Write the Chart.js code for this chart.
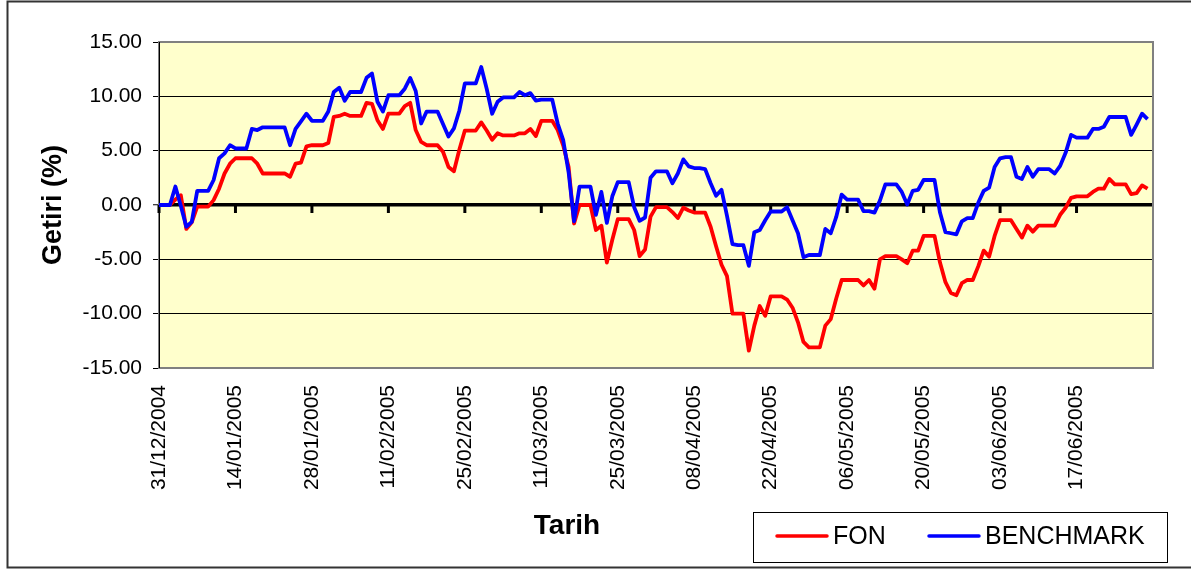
<!DOCTYPE html>
<html>
<head>
<meta charset="utf-8">
<script src="https://cdn.jsdelivr.net/npm/chart.js@4.4.1/dist/chart.umd.min.js"></script>
<style>
  html, body { margin: 0; padding: 0; background: #fff; }
  #wrap { width: 1191px; height: 569px; position: relative; }
</style>
</head>
<body>
<div id="wrap"><canvas id="c" width="1191" height="569"></canvas></div>
<script>
// tick labels shown on the x axis (one every 14 days, first = day 0)
const tickLabels = ["31/12/2004", "14/01/2005", "28/01/2005", "11/02/2005", "25/02/2005",
  "11/03/2005", "25/03/2005", "08/04/2005", "22/04/2005", "06/05/2005",
  "20/05/2005", "03/06/2005", "17/06/2005"];
const lastDay = 182; // 01/07/2005, axis end

// daily returns (%), day 0 = 31/12/2004
const fon = [
  0, 0, 0, 0.5, 0.9, -2.2, -1.6, -0.15, -0.15, -0.15,
  0.45, 1.5, 2.9, 3.8, 4.3, 4.3, 4.3, 4.3, 3.8, 2.9,
  2.9, 2.9, 2.9, 2.9, 2.6, 3.8, 3.9, 5.4, 5.5, 5.5,
  5.5, 5.7, 8.1, 8.2, 8.4, 8.2, 8.2, 8.2, 9.4, 9.3,
  7.8, 7.0, 8.4, 8.4, 8.4, 9.1, 9.4, 6.9, 5.8, 5.5,
  5.5, 5.5, 4.9, 3.5, 3.1, 5.1, 6.85, 6.85, 6.85, 7.6,
  6.85, 6.0, 6.6, 6.4, 6.4, 6.4, 6.6, 6.6, 7.0, 6.35,
  7.75, 7.75, 7.75, 6.9, 5.5, 3.5, -1.7, 0, 0, 0,
  -2.3, -1.9, -5.3, -3.2, -1.3, -1.3, -1.3, -2.3, -4.7, -4.1,
  -1.07, -0.2, -0.2, -0.2, -0.65, -1.2, -0.25, -0.5, -0.7, -0.7,
  -0.7, -2.0, -3.8, -5.5, -6.55, -10.0, -10.0, -10.0, -13.4, -11.1,
  -9.3, -10.2, -8.4, -8.4, -8.4, -8.7, -9.45, -10.8, -12.6, -13.1,
  -13.1, -13.1, -11.1, -10.5, -8.6, -6.9, -6.9, -6.9, -6.9, -7.4,
  -6.9, -7.7, -5.0, -4.7, -4.7, -4.7, -5.0, -5.35, -4.2, -4.2,
  -2.85, -2.85, -2.85, -5.3, -7.1, -8.1, -8.3, -7.2, -6.9, -6.9,
  -5.65, -4.2, -4.75, -2.85, -1.4, -1.4, -1.4, -2.2, -3.0, -1.9,
  -2.45, -1.9, -1.9, -1.9, -1.9, -0.9, -0.25, 0.65, 0.8, 0.8,
  0.8, 1.2, 1.5, 1.5, 2.4, 1.9, 1.9, 1.9, 1.0, 1.1,
  1.8, 1.5
];
const benchmark = [
  0, 0, 0, 1.7, -0.1, -2.0, -1.55, 1.3, 1.3, 1.3,
  2.3, 4.3, 4.75, 5.5, 5.2, 5.2, 5.2, 7.0, 6.9, 7.15,
  7.15, 7.15, 7.15, 7.15, 5.5, 7.0, 7.7, 8.4, 7.75, 7.75,
  7.75, 8.6, 10.4, 10.8, 9.6, 10.4, 10.4, 10.4, 11.7, 12.1,
  9.5, 8.6, 10.1, 10.1, 10.1, 10.7, 11.7, 10.5, 7.5, 8.6,
  8.6, 8.6, 7.45, 6.3, 7.05, 8.7, 11.2, 11.2, 11.2, 12.7,
  10.7, 8.4, 9.5, 9.9, 9.9, 9.9, 10.4, 10.1, 10.3, 9.6,
  9.7, 9.7, 9.7, 7.5, 6.0, 3.0, -1.5, 1.7, 1.7, 1.7,
  -0.9, 1.2, -1.65, 0.8, 2.1, 2.1, 2.1, -0.2, -1.45, -1.15,
  2.5, 3.1, 3.1, 3.1, 2.0, 2.9, 4.2, 3.55, 3.4, 3.4,
  3.3, 2.0, 0.85, 1.4, -1.0, -3.6, -3.7, -3.7, -5.6, -2.5,
  -2.3, -1.4, -0.6, -0.6, -0.6, -0.2, -1.4, -2.6, -4.8, -4.6,
  -4.6, -4.6, -2.2, -2.6, -1.1, 0.96, 0.5, 0.5, 0.5, -0.56,
  -0.56, -0.7, 0.4, 1.9, 1.9, 1.9, 1.2, 0.05, 1.3, 1.4,
  2.3, 2.3, 2.3, -0.7, -2.5, -2.6, -2.7, -1.5, -1.2, -1.2,
  0.2, 1.3, 1.6, 3.5, 4.3, 4.4, 4.4, 2.6, 2.4, 3.5,
  2.6, 3.3, 3.3, 3.3, 2.9, 3.6, 4.8, 6.45, 6.2, 6.2,
  6.2, 7.0, 7.0, 7.2, 8.1, 8.1, 8.1, 8.1, 6.45, 7.4,
  8.4, 7.9
];

const FONT = "'Liberation Sans', Arial, sans-serif";
Chart.defaults.font.family = FONT;
Chart.defaults.color = "#000";

const toPoints = arr => arr.map((v, i) => ({ x: i, y: v }));

// yellow plot background + grey frame
const plotFrame = {
  id: "plotFrame",
  beforeDraw(chart) {
    const { ctx, chartArea: a } = chart;
    ctx.save();
    ctx.fillStyle = "#FFFFCC";
    ctx.fillRect(a.left, a.top, a.right - a.left, a.bottom - a.top);
    ctx.restore();
  },
  beforeDatasetsDraw(chart) {
    const { ctx, chartArea: a, scales } = chart;
    ctx.save();
    ctx.strokeStyle = "#808080";
    ctx.lineWidth = 2;
    ctx.strokeRect(a.left, a.top, a.right - a.left, a.bottom - a.top);
    ctx.strokeStyle = "#000";
    ctx.lineWidth = 1;
    ctx.beginPath();
    ctx.moveTo(a.left + 0.5, a.top);
    ctx.lineTo(a.left + 0.5, a.bottom);
    ctx.stroke();
    // x tick marks hang below the zero line
    const y0 = scales.y.getPixelForValue(0);
    ctx.lineWidth = 3;
    scales.x.ticks.forEach(t => {
      const px = scales.x.getPixelForValue(t.value);
      ctx.beginPath();
      ctx.moveTo(px, y0);
      ctx.lineTo(px, y0 + 8);
      ctx.stroke();
    });
    ctx.restore();
  }
};

// outer border, x title and boxed legend
const extras = {
  id: "extras",
  afterDraw(chart) {
    const { ctx } = chart;
    ctx.save();
    ctx.strokeStyle = "#333";
    ctx.lineWidth = 2;
    ctx.beginPath();
    ctx.moveTo(1200, 1.5);
    ctx.lineTo(7.5, 1.5);
    ctx.lineTo(7.5, 567.5);
    ctx.lineTo(1200, 567.5);
    ctx.stroke();

    ctx.fillStyle = "#000";
    ctx.font = "bold 28px " + FONT;
    ctx.textAlign = "center";
    ctx.textBaseline = "middle";
    ctx.fillText("Tarih", 567, 526);

    ctx.fillStyle = "#fff";
    ctx.fillRect(753.5, 512.5, 414, 50);
    ctx.strokeStyle = "#000";
    ctx.lineWidth = 1;
    ctx.strokeRect(753.5, 512.5, 414, 50);
    const items = [
      { ds: chart.data.datasets[0], x: 777 },
      { ds: chart.data.datasets[1], x: 929 }
    ];
    ctx.font = "25px " + FONT;
    ctx.textAlign = "left";
    items.forEach(it => {
      ctx.strokeStyle = it.ds.borderColor;
      ctx.lineWidth = 3.5;
      ctx.lineCap = "round";
      ctx.beginPath();
      ctx.moveTo(it.x, 536);
      ctx.lineTo(it.x + 50, 536);
      ctx.stroke();
      ctx.fillStyle = "#000";
      ctx.fillText(it.ds.label, it.x + 56, 537);
    });
    ctx.restore();
  }
};

new Chart(document.getElementById("c"), {
  type: "line",
  data: {
    datasets: [
      { label: "FON", data: toPoints(fon), borderColor: "#FF0000", borderWidth: 3.8,
        pointRadius: 0, tension: 0, borderJoinStyle: "round", order: 1 },
      { label: "BENCHMARK", data: toPoints(benchmark), borderColor: "#0000FF", borderWidth: 3.8,
        pointRadius: 0, tension: 0, borderJoinStyle: "round", order: 0 }
    ]
  },
  options: {
    responsive: false,
    animation: false,
    layout: { padding: { left: 0, right: 38, top: 42, bottom: 0 } },
    plugins: { legend: { display: false }, tooltip: { enabled: false } },
    scales: {
      x: {
        type: "linear",
        min: 0,
        max: lastDay,
        grid: { display: false, drawTicks: false },
        border: { display: false },
        ticks: {
          stepSize: 14,
          autoSkip: false,
          maxRotation: 90,
          minRotation: 90,
          padding: 17,
          font: { size: 21 },
          callback: v => tickLabels[v / 14]
        },
        afterFit: s => { s.height = 201; }
      },
      y: {
        min: -15,
        max: 15,
        grid: {
          color: c => (Math.abs(c.tick.value) === 15 ? "#808080" : "#000"),
          lineWidth: c => (c.tick.value === 0 ? 3.5 : 1),
          tickColor: "#000",
          tickWidth: 1,
          tickLength: 6
        },
        border: { display: false },
        ticks: {
          stepSize: 5,
          padding: 11,
          font: { size: 21 },
          callback: v => v.toFixed(2)
        },
        title: {
          display: true,
          text: "Getiri (%)",
          font: { size: 27, weight: "bold" },
          padding: { top: 37, bottom: 0 }
        },
        afterFit: s => { s.width = 159; }
      }
    }
  },
  plugins: [plotFrame, extras]
});
</script>
</body>
</html>
